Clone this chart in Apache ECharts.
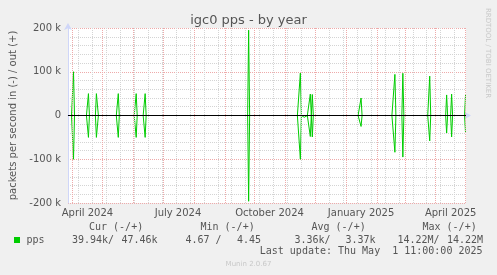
<!DOCTYPE html>
<html>
<head>
<meta charset="utf-8">
<script src="https://cdn.jsdelivr.net/npm/echarts@6/dist/echarts.min.js"></script>
<style>
html,body{margin:0;padding:0;background:#f0f0f0;}
#chart{width:497px;height:275px;}
</style>
</head>
<body>
<div id="chart"></div>
<script>
// ---- data ----
const titleText = 'igc0 pps - by year';
const yAxisName = 'packets per second in (-) / out (+)';
const rangeStart = '2024-03-27T11:00:00Z';
const rangeEnd = '2025-05-01T11:00:00Z';
const spikeDates = ['2024-04-02','2024-04-17','2024-04-25','2024-04-26','2024-05-17','2024-06-04','2024-06-13',
  '2024-09-25','2024-11-16','2024-11-20','2024-11-26','2024-11-28','2025-01-16','2025-02-19','2025-02-27',
  '2025-03-26','2025-04-12','2025-04-17','2025-05-01'];
const outValues = [100000,50000,50000,50000,50000,50000,50000,
  195000,97000,0,49000,48000,40000,94000,96500,
  90000,47000,49000,47460];
const inValues = [-100000,-50000,-50000,-50000,-50000,-50000,-50000,
  -196000,-100000,-4000,-48000,-49000,-25000,-84000,-95000,
  -58000,-40000,-49000,-39940];
const baselineValue = 0;
const yTicks = [-200000,-100000,0,100000,200000];
const yTickLabels = ['-200 k','-100 k','0','100 k','200 k'];
const xLabelDates = ['2024-04-16','2024-07-16','2024-10-16','2025-01-16','2025-04-16'];
const xLabels = ['April 2024','July 2024','October 2024','January 2025','April 2025'];
const monthLineDates = ['2024-04-01','2024-05-01','2024-06-01','2024-07-01','2024-08-01','2024-09-01','2024-10-01',
  '2024-11-01','2024-12-01','2025-01-01','2025-02-01','2025-03-01','2025-04-01','2025-05-01'];
const minorLineStart = '2024-04-07';
const minorLineStepDays = 14;
const legendHeaders = ['Cur (-/+)','Min (-/+)','Avg (-/+)','Max (-/+)'];
const legendInVals = ['39.94k/','4.67 /','3.36k/','14.22M/'];
const legendOutVals = ['47.46k','4.45','3.37k','14.22M'];
const seriesName = 'pps';
const lastUpdate = 'Last update: Thu May  1 11:00:00 2025';
const footer = 'Munin 2.0.67';
const watermark = 'RRDTOOL / TOBI OETIKER';

// ---- build ----
const DAY = 86400000;
const tMin = Date.parse(rangeStart), tMax = Date.parse(rangeEnd);
const outMap = {}, inMap = {};
spikeDates.forEach((d,i)=>{ const t = Date.parse(d+'T00:00:00Z'); outMap[t]=outValues[i]; inMap[t]=inValues[i]; });
const outData = [], inData = [];
let t0 = Date.parse('2024-03-28T00:00:00Z');
const tLast = Date.parse('2025-05-01T00:00:00Z');
for (let t = t0; t <= tLast; t += DAY) {
  outData.push([t, t in outMap ? outMap[t] : baselineValue]);
  inData.push([t, t in inMap ? inMap[t] : baselineValue]);
}
const minorLines = [];
for (let t = Date.parse(minorLineStart+'T00:00:00Z'); t < tMax; t += minorLineStepDays*DAY) minorLines.push(t);
const monthLines = monthLineDates.map(d=>Date.parse(d+'T00:00:00Z'));
const xLabelVals = xLabelDates.map(d=>Date.parse(d+'T00:00:00Z'));

const chart = echarts.init(document.getElementById('chart'), null, {renderer:'canvas'});
const mono = 'DejaVu Sans Mono';
const sans = 'DejaVu Sans';
const txtColor = '#555';
const gridLine = (arr, color) => arr.map(v=>({xAxis:v, lineStyle:{color:color, type:[1,1], width:1}}));

const graphics = [
  {type:'rect', shape:{x:14,y:237,width:6,height:6}, style:{fill:'#00cc00'}},
  {type:'text', x:26.5, y:240, style:{text:seriesName, font:'10px '+mono, fill:txtColor, verticalAlign:'middle'}},
  {type:'text', x:482.5, y:251, style:{text:lastUpdate, font:'10px '+mono, fill:txtColor, align:'right', verticalAlign:'middle'}},
  {type:'text', x:248.5, y:264, style:{text:footer, font:'7px '+sans, fill:'#c8c8c8', align:'center', verticalAlign:'middle'}},
  {type:'text', x:488, y:53, rotation:-Math.PI/2, style:{text:watermark, font:'7px '+sans, fill:'#c8c8c8', align:'center', verticalAlign:'middle'}}
];
const headerLeft = [89, 200.5, 311.5, 422.5];
const inLeft = [72, 185.5, 294.5, 397.5];
const outRight = [157.5, 261, 375.5, 483];
legendHeaders.forEach((h,i)=>{
  graphics.push({type:'text', x:headerLeft[i], y:227.7, style:{text:h, font:'10px '+mono, fill:txtColor, verticalAlign:'middle'}});
  graphics.push({type:'text', x:inLeft[i], y:240, style:{text:legendInVals[i], font:'10px '+mono, fill:txtColor, verticalAlign:'middle'}});
  graphics.push({type:'text', x:outRight[i], y:240, style:{text:legendOutVals[i], font:'10px '+mono, fill:txtColor, align:'right', verticalAlign:'middle'}});
});

chart.setOption({
  backgroundColor:'#f0f0f0',
  animation:false,
  title:{text:titleText, left:'center', top:9, textStyle:{fontFamily:sans, fontSize:13, fontWeight:'normal', color:'#555'}},
  grid:{left:66, right:31, top:28, bottom:72, show:true, backgroundColor:'#ffffff', borderWidth:0},
  xAxis:{
    type:'value', min:tMin, max:tMax,
    axisLine:{show:true, lineStyle:{color:'#cfd6f8', width:1}, symbol:['none','arrow'], symbolSize:[6,7], symbolOffset:[0,5]},
    axisTick:{show:false},
    splitLine:{show:false},
    axisLabel:{customValues:xLabelVals, formatter:(v)=>xLabels[xLabelVals.indexOf(v)] || '', fontFamily:sans, fontSize:10, color:txtColor, margin:5}
  },
  yAxis:{
    type:'value', min:-200000, max:200000, interval:100000,
    name:yAxisName, nameLocation:'middle', nameRotate:90, nameGap:50,
    nameTextStyle:{fontFamily:sans, fontSize:10, color:txtColor},
    axisLine:{show:true, lineStyle:{color:'#cfd6f8', width:1}, symbol:['none','arrow'], symbolSize:[6,7], symbolOffset:[0,5]},
    axisTick:{show:false},
    axisLabel:{formatter:(v)=>yTickLabels[yTicks.indexOf(v)], fontFamily:sans, fontSize:10, color:txtColor, margin:7},
    splitLine:{show:true, lineStyle:{color:'#eeaaaa', type:[1,1]}},
    minorTick:{show:false, splitNumber:5},
    minorSplitLine:{show:true, lineStyle:{color:'#d4d4d4', type:[1,1]}}
  },
  graphic:graphics,
  series:[
    {type:'line', z:1, data:[], silent:true,
      markLine:{silent:true, symbol:['none','none'], label:{show:false}, animation:false,
        data: gridLine(minorLines,'#d4d4d4').concat(gridLine(monthLines,'#eeaaaa'))}},
    {name:'out', type:'line', z:2, data:outData, showSymbol:false, lineStyle:{color:'#00cc00', width:1}, itemStyle:{color:'#00cc00'}},
    {name:'in', type:'line', z:2, data:inData, showSymbol:false, lineStyle:{color:'#00cc00', width:1}, itemStyle:{color:'#00cc00'},
      markLine:{silent:true, symbol:['none','none'], label:{show:false}, animation:false,
        data:[{yAxis:0, lineStyle:{color:'#000', type:'solid', width:1}}]}}
  ]
});
</script>
</body>
</html>
